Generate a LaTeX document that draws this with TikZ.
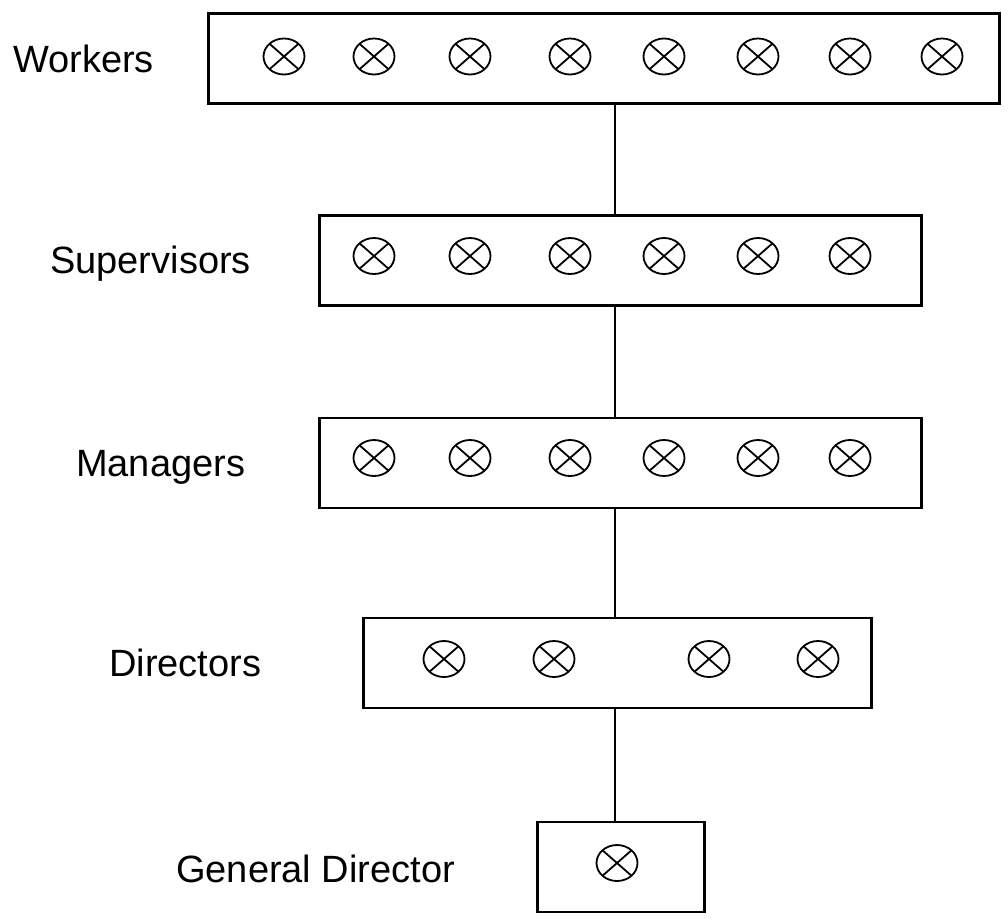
\documentclass[tikz,border=0pt]{standalone}
\usepackage{fontspec}
\setmainfont{Liberation Sans}
\usetikzlibrary{shapes.geometric}
\begin{document}
\begin{tikzpicture}[x=1pt,y=-1pt,
  level/.style={draw,line width=2.4pt,rectangle,inner sep=0pt,outer sep=0pt,minimum height=90pt},
  member/.style={draw,ellipse,line width=1.8pt,inner sep=0pt,outer sep=0pt,
    minimum width=41pt,minimum height=36pt,
    path picture={\draw[line width=1.8pt]
      (path picture bounding box.north west) -- (path picture bounding box.south east)
      (path picture bounding box.north east) -- (path picture bounding box.south west);}},
  lbl/.style={anchor=base west,inner sep=0pt,font=\fontsize{38}{40}\selectfont},
  link/.style={line width=1.5pt}]
\useasboundingbox (0,0) rectangle (1008,922);
\fill[white] (0,0) rectangle (1008,922);
\coordinate (spine) at (615,0);

% level boxes
\node[level,minimum width=791pt] (wk)  at (604,58.5) {};
\node[level,minimum width=602pt] (sup) at (620.5,260.5) {};
\node[level,minimum width=602pt] (mgr) at (620.5,463) {};
\node[level,minimum width=508pt] (dir) at (617.5,663) {};
\node[level,minimum width=167pt] (gd)  at (621,867) {};

% labels
\node[lbl] (lwk)  at (13,72)  {Workers};
\node[lbl] (lsup) at (50,273) {Supervisors};
\node[lbl] (lmgr) at (76,476) {Managers};
\node[lbl] (ldir) at (109,676) {Directors};
\node[lbl] (lgd)  at (176,882) {General Director};

% members
\foreach \x [count=\i] in {284,374,470,570,664,758,850,942}
  \node[member] (w\i) at (\x,56.5) {};
\foreach \x [count=\i] in {374,470,570,664,758,850}
  \node[member] (s\i) at (\x,256) {};
\foreach \x [count=\i] in {374,470,570,664,758,850}
  \node[member] (m\i) at (\x,458) {};
\foreach \x [count=\i] in {444,554,709,818}
  \node[member] (d\i) at (\x,659) {};
\node[member] (g1) at (617,863) {};

% connectors
\draw[link] (wk.south -| spine) -- (sup.north -| spine);
\draw[link] (sup.south -| spine) -- (mgr.north -| spine);
\draw[link] (mgr.south -| spine) -- (dir.north -| spine);
\draw[link] (dir.south -| spine) -- (gd.north -| spine);
\end{tikzpicture}
\end{document}
